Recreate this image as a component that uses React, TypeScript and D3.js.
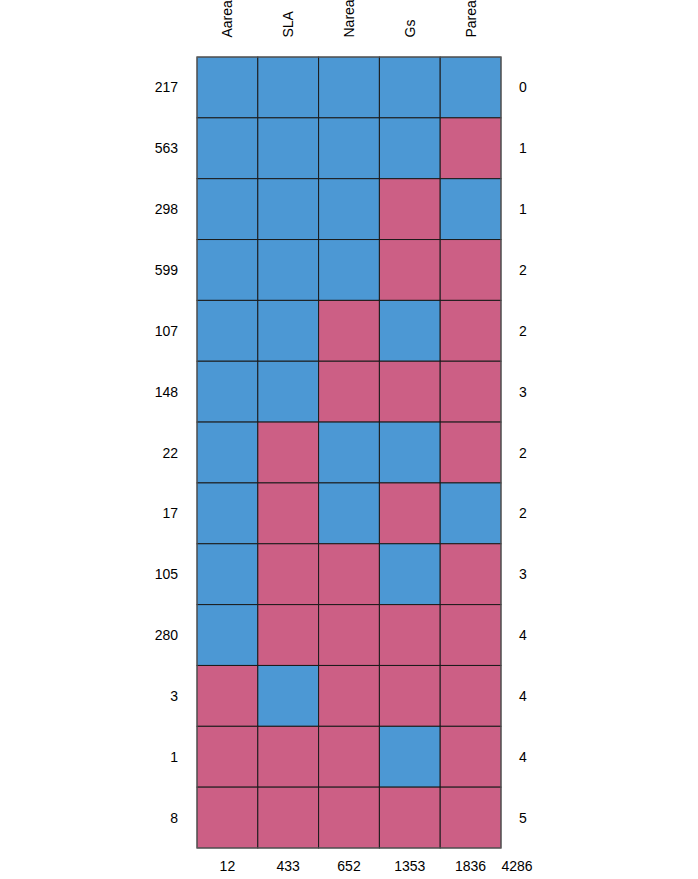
import React from "react";
import * as d3 from "d3";

const variables = ["Aarea", "SLA", "Narea", "Gs", "Parea"];
const rowCounts = [217, 563, 298, 599, 107, 148, 22, 17, 105, 280, 3, 1, 8];
// 1 = observed (blue), 0 = missing (red)
const patterns = [
  [1, 1, 1, 1, 1],
  [1, 1, 1, 1, 0],
  [1, 1, 1, 0, 1],
  [1, 1, 1, 0, 0],
  [1, 1, 0, 1, 0],
  [1, 1, 0, 0, 0],
  [1, 0, 1, 1, 0],
  [1, 0, 1, 0, 1],
  [1, 0, 0, 1, 0],
  [1, 0, 0, 0, 0],
  [0, 1, 0, 0, 0],
  [0, 0, 0, 1, 0],
  [0, 0, 0, 0, 0],
];
const missingPerRow = [0, 1, 1, 2, 2, 3, 2, 2, 3, 4, 4, 4, 5];
const missingPerVar = [12, 433, 652, 1353, 1836];
const totalMissing = 4286;

const W = 698;
const H = 879;
const gridLeft = 197;
const gridRight = 501;
const gridTop = 57;
const gridBottom = 848;

const OBS = "#4C98D4";
const MIS = "#CC5F85";
const FONT = "Liberation Sans, Arial, Helvetica, sans-serif";

export default function App() {
  const x = d3.scaleBand<number>().domain(d3.range(variables.length)).range([gridLeft, gridRight]).padding(0);
  const y = d3.scaleBand<number>().domain(d3.range(rowCounts.length)).range([gridTop, gridBottom]).padding(0);
  const bw = x.bandwidth();
  const bh = y.bandwidth();
  return (
    <svg width={W} height={H} style={{ position: "absolute", left: 0, top: 0 }} fontFamily={FONT} fontSize={14}>
      <rect width={W} height={H} fill="#fff" />
      {patterns.map((row, i) =>
        row.map((v, j) => (
          <rect
            key={`${i}-${j}`}
            x={x(j)}
            y={y(i)}
            width={bw}
            height={bh}
            fill={v ? OBS : MIS}
            stroke="#1a1a1a"
            strokeWidth={1}
          />
        ))
      )}
      <rect
        x={gridLeft}
        y={gridTop}
        width={gridRight - gridLeft}
        height={gridBottom - gridTop}
        fill="none"
        stroke="#666"
        strokeWidth={1}
      />
      {variables.map((v, j) => (
        <text
          key={v}
          transform={`translate(${(x(j) as number) + bw / 2 + 5},37.5) rotate(-90)`}
          textAnchor="start"
          fill="#000"
        >
          {v}
        </text>
      ))}
      {rowCounts.map((c, i) => (
        <text key={`l${i}`} x={178} y={(y(i) as number) + bh / 2 + 5} textAnchor="end" fill="#000">
          {c}
        </text>
      ))}
      {missingPerRow.map((c, i) => (
        <text key={`r${i}`} x={519} y={(y(i) as number) + bh / 2 + 5} textAnchor="start" fill="#000">
          {c}
        </text>
      ))}
      {missingPerVar.map((c, j) => (
        <text key={`b${j}`} x={(x(j) as number) + bw / 2} y={871} textAnchor="middle" fill="#000">
          {c}
        </text>
      ))}
      <text x={517} y={871} textAnchor="middle" fill="#000">
        {totalMissing}
      </text>
    </svg>
  );
}
